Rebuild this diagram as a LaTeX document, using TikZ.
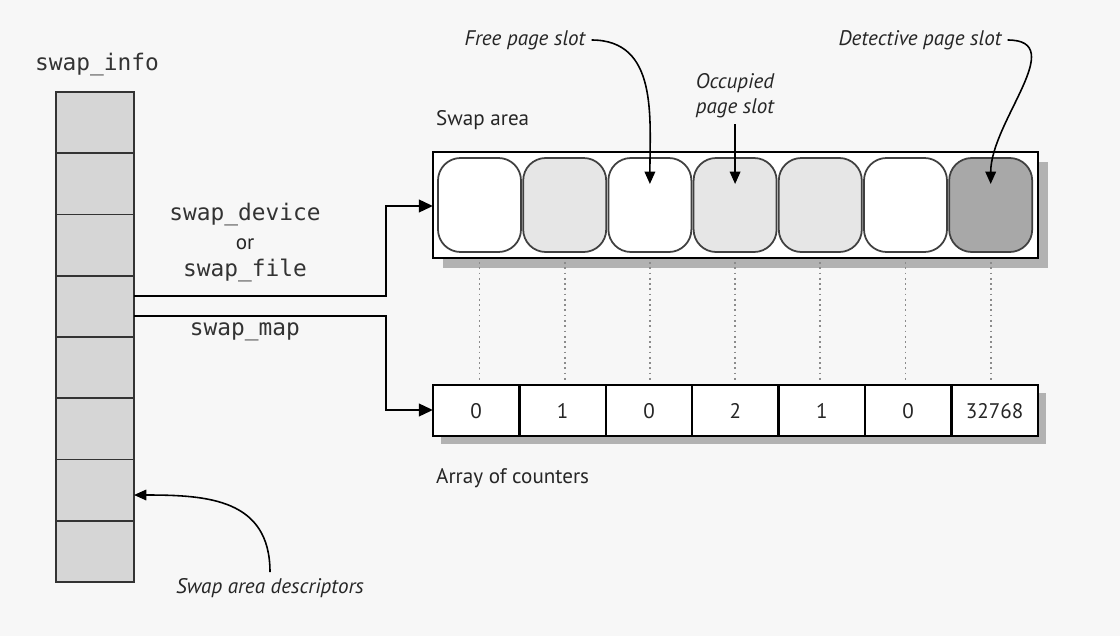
\documentclass[tikz,border=0pt]{standalone}
\usepackage{fontspec}
\setmainfont{PT Sans}
\newfontfamily\monof{DejaVu Sans Mono}
\usetikzlibrary{arrows.meta}
\definecolor{bg}{HTML}{F7F7F7}
\definecolor{cellg}{HTML}{D6D6D6}
\definecolor{lg}{HTML}{E6E6E6}
\definecolor{dg}{HTML}{A8A8A8}
\begin{document}
\begin{tikzpicture}[x=0.02cm,y=-0.02cm,
  cell/.style={draw=black!80,line width=1pt,fill=cellg},
  slot/.style={draw=black!75,line width=1pt,rounded corners=0.45cm},
  conn/.style={line width=1.6pt,-{Triangle[length=8pt,width=7pt]}},
  note/.style={line width=0.9pt,-{Triangle[length=7pt,width=6pt]}},
  mono/.style={font=\monof\fontsize{13}{15}\selectfont,text=black!80},
  lab/.style={font=\itshape\fontsize{12}{14}\selectfont,text=black!85},
  plain/.style={font=\fontsize{12}{14}\selectfont,text=black!85},
  shadow/.style={fill=black!30}]
\fill[bg] (0,0) rectangle (1120,636);
\useasboundingbox (0,0) rectangle (1120,636);
% swap_info column
\node[mono] (si) at (97,65) {swap\_info};
\foreach \i in {0,...,7}{
  \draw[cell] (56,{92+\i*61.25}) rectangle (134,{92+(\i+1)*61.25});
}
\coordinate (d1) at (134,296);
\coordinate (d2) at (134,316);
\coordinate (dd) at (134,495);
% swap area
\node[plain,anchor=west] (sa) at (430,120) {Swap area};
\fill[shadow] (443,162) rectangle (1048,268);
\draw[line width=1.6pt,fill=white] (433,152) rectangle (1038,258);
\coordinate (saw) at (433,206);
\foreach \c/\f [count=\i from 0] in {white/a,lg/b,white/c,lg/d,lg/e,white/f,dg/g}{
  \draw[slot,fill=\c] ({438+\i*85.2},158) rectangle ({521+\i*85.2},252);
  \coordinate (slot\f) at ({479.5+\i*85.2},184);
  \draw[black!45,dotted,line width=1pt] ({479.5+\i*85.2},262) -- ({479.5+\i*85.2},380);
}
% counters
\fill[shadow] (441,393) rectangle (1046,444);
\draw[line width=1.6pt,fill=white] (433,385) rectangle (1038,436);
\coordinate (caw) at (433,410);
\foreach \v [count=\i from 0] in {0,1,0,2,1,0,32768}{
  \ifnum\i>0 \draw[line width=1.4pt] ({433+\i*86.4},385) -- ({433+\i*86.4},436);\fi
  \node[plain] (c\i) at ({476.2+\i*86.4},411) {\v};
}
\node[plain,anchor=west] (aoc) at (430,478) {Array of counters};
% connectors
\draw[conn] (d1) -- (386,296) |- (saw);
\draw[conn] (d2) -- (386,316) |- (caw);
\node[mono] (sdev) at (245,215) {swap\_device};
\node[plain] (or) at (245,244) {or};
\node[mono] (sf) at (245,270) {swap\_file};
\node[mono] (sm) at (245,332) {swap\_map};
% annotations
\node[lab] (fps) at (525,40) {Free page slot};
\draw[note] (fps.east) to[out=0,in=90,looseness=1.1] (slotc);
\node[lab,align=center] (ops) at (735,96) {Occupied\\page slot};
\draw[note] (ops.south -| slotd) -- (slotd);
\node[lab] (dps) at (920,40) {Detective page slot};
\draw[note] (dps.east) to[out=0,in=90,looseness=1.1] (slotg);
\node[lab] (sad) at (270,588) {Swap area descriptors};
\draw[note] (sad.north) to[out=90,in=0,looseness=1.2] (dd);
\end{tikzpicture}
\end{document}
